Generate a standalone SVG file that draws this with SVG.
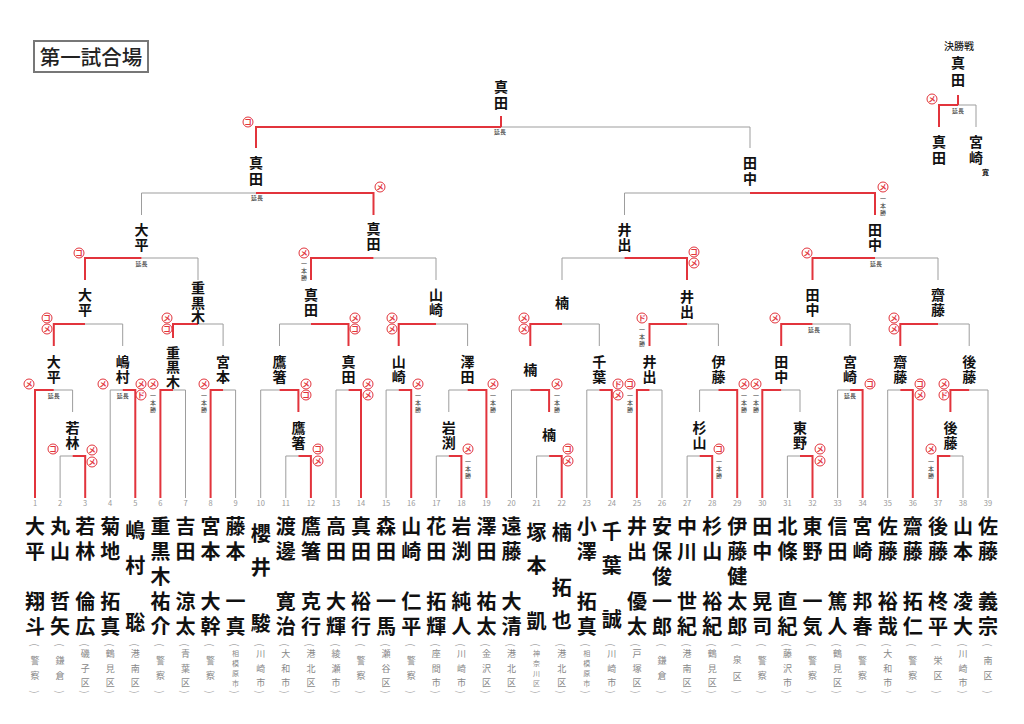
<svg xmlns="http://www.w3.org/2000/svg" width="1024" height="724" viewBox="0 0 1024 724">
<style>
text{font-family:"Noto Sans CJK JP","Noto Sans",sans-serif;text-anchor:middle}
.g{fill:none;stroke:#9d9d9d;stroke-width:1}
.r{fill:none;stroke:#e2343c;stroke-width:2}
.v,.v text{writing-mode:vertical-rl;text-orientation:upright;text-anchor:start}
.nm{font-size:14px;font-weight:700;fill:#111;letter-spacing:1px}
.pn{font-size:20px;font-weight:700;fill:#111;letter-spacing:5px}
.af{font-size:9px;fill:#888;letter-spacing:6px}
.af3{font-size:9px;fill:#888;letter-spacing:5.5px}
.af4{font-size:7px;fill:#888;letter-spacing:3px}
.pr{font-size:10px;fill:#aaa;dominant-baseline:central}
.no{font-size:7.5px;fill:#999}
.sm{font-size:6px;fill:#333}
.ip{font-size:6px;fill:#333;letter-spacing:1px}
.mk circle{fill:#fff;stroke:#e2343c;stroke-width:1}
.mk text{font-size:7.5px;fill:#e2343c;font-weight:700}
</style>
<rect x="34" y="41" width="114" height="31" fill="none" stroke="#777" stroke-width="2"/>
<text x="91" y="64.5" style="font-size:20.5px;font-weight:500;fill:#222">第一試合場</text>
<text x="959" y="49.5" style="font-size:10px;font-weight:500;fill:#222">決勝戦</text>

<g id="connectors">
<path class="g" d="M60.1,498V456H72.6M285.8,498V456H298.4M436.3,498V456H448.8M536.6,498V456H549.1M687.1,498V456H699.6M787.4,498V456H800M950.4,456H963V498"/>
<path class="g" d="M53.8,390H72.6V412M110.2,498V390H122.7M173,390H185.5V498M223.1,390H235.6V498M260.7,498V390H279.5M336,498V390H348.5M386.1,498V390H398.7M448.8,412V390H467.6M511.5,498V390H530.3M586.8,498V390H599.3M649.5,390H662V498M699.6,412V390H718.4M781.2,390H800V412M837.6,498V390H850.1M887.7,498V390H900.3M969.2,390H988V498"/>
<path class="g" d="M85,324H122.7V346M198,324H223.1V346M279.5,346V324H311M436,324H467.6V346M562,324H599.3V346M687,324H718.4V346M812.5,324H850.1V346M938,324H969.2V346"/>
<path class="g" d="M141.5,258H198V280M373.5,258H436V280M562,280V258H624.5M875,258H938V280"/>
<path class="g" d="M141.5,215V193H256M624.5,215V193H750M501,127H750V148M958,105H976V127"/>
<path class="r" d="M72.6,456H85.2V498M298.4,456H310.9V498M448.8,456H461.4V498M549.1,456H561.7V498M699.6,456H712.2V498M800,456H812.5V498M937.9,498V456H950.4"/>
<path class="r" d="M35,498V390H53.8M122.7,390H135.3V498M160.4,498V390H173M210.6,498V390H223.1M279.5,390H298.4V412M348.5,390H361V498M398.7,390H411.2V498M467.6,390H486.4V498M530.3,390H549.1V412M599.3,390H611.8V498M636.9,498V390H649.5M718.4,390H737.2V498M762.3,498V390H781.2M850.1,390H862.6V498M900.3,390H912.8V498M950.4,412V390H969.2"/>
<path class="r" d="M53.8,346V324H85M173,338V324H198M311,324H348.5V346M398.7,346V324H436M530.3,346V324H562M649.5,346V324H687M781.2,346V324H812.5M900.3,346V324H938"/>
<path class="r" d="M85,280V258H141.5M311,280V258H373.5M624.5,258H687V280M812.5,280V258H875"/>
<path class="r" d="M256,193H373.5V215M750,193H875V215M256,148V127H501M501,116V127M939,127V105H958M958,95V105"/>
</g>

<g id="scores">
<g class="mk">
<circle cx="53" cy="449" r="5"/><text x="53" y="451.6">コ</text>
<circle cx="92" cy="450" r="5"/><text x="92" y="452.6">メ</text>
<circle cx="92" cy="462" r="5"/><text x="92" y="464.6">メ</text>
<circle cx="318" cy="449" r="5"/><text x="318" y="451.6">コ</text>
<circle cx="318" cy="461" r="5"/><text x="318" y="463.6">メ</text>
<circle cx="468" cy="449" r="5"/><text x="468" y="451.6">メ</text>
<circle cx="568" cy="449" r="5"/><text x="568" y="451.6">コ</text>
<circle cx="568" cy="461" r="5"/><text x="568" y="463.6">メ</text>
<circle cx="719" cy="449" r="5"/><text x="719" y="451.6">コ</text>
<circle cx="820" cy="449" r="5"/><text x="820" y="451.6">メ</text>
<circle cx="820" cy="461" r="5"/><text x="820" y="463.6">メ</text>
<circle cx="931" cy="449" r="5"/><text x="931" y="451.6">メ</text>
<circle cx="29" cy="384" r="5"/><text x="29" y="386.6">メ</text>
<circle cx="103" cy="384" r="5"/><text x="103" y="386.6">メ</text>
<circle cx="141" cy="384" r="5"/><text x="141" y="386.6">メ</text>
<circle cx="141" cy="395" r="5"/><text x="141" y="397.6">ド</text>
<circle cx="153" cy="384" r="5"/><text x="153" y="386.6">メ</text>
<circle cx="204" cy="384" r="5"/><text x="204" y="386.6">メ</text>
<circle cx="306" cy="384" r="5"/><text x="306" y="386.6">メ</text>
<circle cx="306" cy="395" r="5"/><text x="306" y="397.6">コ</text>
<circle cx="368" cy="384" r="5"/><text x="368" y="386.6">メ</text>
<circle cx="368" cy="395" r="5"/><text x="368" y="397.6">メ</text>
<circle cx="418" cy="384" r="5"/><text x="418" y="386.6">メ</text>
<circle cx="493" cy="384" r="5"/><text x="493" y="386.6">メ</text>
<circle cx="557" cy="384" r="5"/><text x="557" y="386.6">メ</text>
<circle cx="618" cy="384" r="5"/><text x="618" y="386.6">ド</text>
<circle cx="618" cy="395" r="5"/><text x="618" y="397.6">メ</text>
<circle cx="630" cy="384" r="5"/><text x="630" y="386.6">コ</text>
<circle cx="744" cy="384" r="5"/><text x="744" y="386.6">メ</text>
<circle cx="756" cy="384" r="5"/><text x="756" y="386.6">メ</text>
<circle cx="870" cy="384" r="5"/><text x="870" y="386.6">コ</text>
<circle cx="920" cy="384" r="5"/><text x="920" y="386.6">コ</text>
<circle cx="920" cy="395" r="5"/><text x="920" y="397.6">メ</text>
<circle cx="944" cy="384" r="5"/><text x="944" y="386.6">メ</text>
<circle cx="944" cy="395" r="5"/><text x="944" y="397.6">ド</text>
<circle cx="47" cy="318" r="5"/><text x="47" y="320.6">コ</text>
<circle cx="47" cy="329" r="5"/><text x="47" y="331.6">メ</text>
<circle cx="167" cy="318" r="5"/><text x="167" y="320.6">メ</text>
<circle cx="167" cy="329" r="5"/><text x="167" y="331.6">コ</text>
<circle cx="355" cy="318" r="5"/><text x="355" y="320.6">メ</text>
<circle cx="355" cy="329" r="5"/><text x="355" y="331.6">コ</text>
<circle cx="392" cy="318" r="5"/><text x="392" y="320.6">メ</text>
<circle cx="392" cy="329" r="5"/><text x="392" y="331.6">メ</text>
<circle cx="524" cy="318" r="5"/><text x="524" y="320.6">メ</text>
<circle cx="524" cy="329" r="5"/><text x="524" y="331.6">メ</text>
<circle cx="642" cy="318" r="5"/><text x="642" y="320.6">ド</text>
<circle cx="775" cy="318" r="5"/><text x="775" y="320.6">メ</text>
<circle cx="894" cy="318" r="5"/><text x="894" y="320.6">メ</text>
<circle cx="894" cy="329" r="5"/><text x="894" y="331.6">メ</text>
<circle cx="79" cy="253" r="5"/><text x="79" y="255.6">コ</text>
<circle cx="304" cy="253" r="5"/><text x="304" y="255.6">メ</text>
<circle cx="694" cy="252" r="5"/><text x="694" y="254.6">コ</text>
<circle cx="694" cy="263" r="5"/><text x="694" y="265.6">メ</text>
<circle cx="807" cy="253" r="5"/><text x="807" y="255.6">メ</text>
<circle cx="380" cy="187" r="5"/><text x="380" y="189.6">メ</text>
<circle cx="883" cy="187" r="5"/><text x="883" y="189.6">メ</text>
<circle cx="248" cy="122" r="5"/><text x="248" y="124.6">コ</text>
<circle cx="932" cy="99" r="5"/><text x="932" y="101.6">メ</text>
</g>
<g class="sm">
<text x="53.8" y="398.1">延長</text><text x="122.7" y="398.1">延長</text><text x="850.1" y="398.1">延長</text>
<text x="814" y="332.1">延長</text><text x="141.5" y="266.1">延長</text><text x="876" y="266.1">延長</text>
<text x="257" y="200.1">延長</text><text x="500" y="134.1">延長</text><text x="958" y="113.1">延長</text>
</g>
<g class="v ip">
<text x="468" y="459">一本勝</text><text x="719" y="459">一本勝</text><text x="931" y="459">一本勝</text>
<text x="153" y="393">一本勝</text><text x="204" y="393">一本勝</text><text x="418" y="393">一本勝</text>
<text x="493" y="393">一本勝</text><text x="557" y="393">一本勝</text><text x="630" y="393">一本勝</text>
<text x="744" y="393">一本勝</text><text x="756" y="393">一本勝</text><text x="642" y="327">一本勝</text>
<text x="304" y="261">一本勝</text><text x="883" y="196">一本勝</text>
</g>
</g>

<g id="winners" class="v nm">
<g id="w-final"><text x="958" y="56" style="letter-spacing:2.5px">真田</text></g>
<g id="f-l"><text x="939" y="135" style="letter-spacing:1.5px">真田</text></g>
<g id="f-r"><text x="976" y="135" style="letter-spacing:1.5px">宮崎</text><text x="986" y="174.5" style="font-size:7px;writing-mode:horizontal-tb;text-anchor:middle">寛</text></g>
<g id="w-top"><text x="501" y="80" style="letter-spacing:1.5px">真田</text></g>
<g id="w-z1"><text x="256" y="156" style="letter-spacing:2px">真田</text></g>
<g id="w-z2"><text x="750" y="156" style="letter-spacing:2px">田中</text></g>
<g id="w-y1"><text x="141.5" y="223">大平</text></g>
<g id="w-y2"><text x="373.5" y="222">真田</text></g>
<g id="w-y3"><text x="624.5" y="223">井出</text></g>
<g id="w-y4"><text x="875" y="223">田中</text></g>
<g id="w-x1"><text x="85" y="288">大平</text></g>
<g id="w-x2"><text x="198" y="281" style="letter-spacing:0.5px">重黒木</text></g>
<g id="w-x3"><text x="311" y="288">真田</text></g>
<g id="w-x4"><text x="436" y="288">山崎</text></g>
<g id="w-x5"><text x="562" y="296">楠</text></g>
<g id="w-x6"><text x="687" y="289.5">井出</text></g>
<g id="w-x7"><text x="812.5" y="288">田中</text></g>
<g id="w-x8"><text x="938" y="288">齋藤</text></g>
<g id="w-h"><text x="53.8" y="355">大平</text></g>
<g id="w-i"><text x="122.7" y="355">嶋村</text></g>
<g id="w-j"><text x="173" y="345.5" style="letter-spacing:0.5px">重黒木</text></g>
<g id="w-k"><text x="223.1" y="355">宮本</text></g>
<g id="w-l"><text x="279.5" y="355">鷹箸</text></g>
<g id="w-m"><text x="348.5" y="355">真田</text></g>
<g id="w-n"><text x="398.7" y="355">山崎</text></g>
<g id="w-o"><text x="467.6" y="355">澤田</text></g>
<g id="w-p"><text x="530.3" y="363">楠</text></g>
<g id="w-q"><text x="599.3" y="355">千葉</text></g>
<g id="w-r"><text x="649.5" y="355">井出</text></g>
<g id="w-s"><text x="718.4" y="355">伊藤</text></g>
<g id="w-t"><text x="781.2" y="355">田中</text></g>
<g id="w-u"><text x="850.1" y="355">宮崎</text></g>
<g id="w-v"><text x="900.3" y="355">齋藤</text></g>
<g id="w-w"><text x="969.2" y="355">後藤</text></g>
<g id="w-a"><text x="72.6" y="421">若林</text></g>
<g id="w-b"><text x="298.4" y="421">鷹箸</text></g>
<g id="w-c"><text x="448.8" y="421">岩渕</text></g>
<g id="w-d"><text x="549.1" y="428">楠</text></g>
<g id="w-e"><text x="699.6" y="421">杉山</text></g>
<g id="w-f"><text x="800" y="421">東野</text></g>
<g id="w-g"><text x="950.4" y="421">後藤</text></g>
</g>

<g id="players">
<g id="p1"><text class="no" x="35" y="505.5">1</text><text class="v pn" x="35" y="516">大平</text><text class="v pn" x="35" y="591">翔斗</text><text class="v af" x="35" y="656.5">警察</text><text class="pr" x="35" y="645" transform="rotate(90 35 645)">(</text><text class="pr" x="35" y="692" transform="rotate(90 35 692)">)</text></g>
<g id="p2"><text class="no" x="60.1" y="505.5">2</text><text class="v pn" x="60.1" y="516">丸山</text><text class="v pn" x="60.1" y="591">哲矢</text><text class="v af" x="60.1" y="656.5">鎌倉</text><text class="pr" x="60.1" y="645" transform="rotate(90 60.1 645)">(</text><text class="pr" x="60.1" y="692" transform="rotate(90 60.1 692)">)</text></g>
<g id="p3"><text class="no" x="85.2" y="505.5">3</text><text class="v pn" x="85.2" y="516">若林</text><text class="v pn" x="85.2" y="591">倫広</text><text class="v af3" x="85.2" y="649.5">磯子区</text><text class="pr" x="85.2" y="645" transform="rotate(90 85.2 645)">(</text><text class="pr" x="85.2" y="692" transform="rotate(90 85.2 692)">)</text></g>
<g id="p4"><text class="no" x="110.2" y="505.5">4</text><text class="v pn" x="110.2" y="516">菊地</text><text class="v pn" x="110.2" y="591">拓真</text><text class="v af3" x="110.2" y="649.5">鶴見区</text><text class="pr" x="110.2" y="645" transform="rotate(90 110.2 645)">(</text><text class="pr" x="110.2" y="692" transform="rotate(90 110.2 692)">)</text></g>
<g id="p5"><text class="no" x="135.3" y="505.5">5</text><text class="v pn" x="135.3" y="520" style="letter-spacing:15px">嶋村</text><text class="v pn" x="135.3" y="612">聡</text><text class="v af3" x="135.3" y="649.5">港南区</text><text class="pr" x="135.3" y="645" transform="rotate(90 135.3 645)">(</text><text class="pr" x="135.3" y="692" transform="rotate(90 135.3 692)">)</text></g>
<g id="p6"><text class="no" x="160.4" y="505.5">6</text><text class="v pn" x="160.4" y="516">重黒木</text><text class="v pn" x="160.4" y="591">祐介</text><text class="v af" x="160.4" y="656.5">警察</text><text class="pr" x="160.4" y="645" transform="rotate(90 160.4 645)">(</text><text class="pr" x="160.4" y="692" transform="rotate(90 160.4 692)">)</text></g>
<g id="p7"><text class="no" x="185.5" y="505.5">7</text><text class="v pn" x="185.5" y="516">吉田</text><text class="v pn" x="185.5" y="591">涼太</text><text class="v af3" x="185.5" y="649.5">青葉区</text><text class="pr" x="185.5" y="645" transform="rotate(90 185.5 645)">(</text><text class="pr" x="185.5" y="692" transform="rotate(90 185.5 692)">)</text></g>
<g id="p8"><text class="no" x="210.6" y="505.5">8</text><text class="v pn" x="210.6" y="516">宮本</text><text class="v pn" x="210.6" y="591">大幹</text><text class="v af" x="210.6" y="656.5">警察</text><text class="pr" x="210.6" y="645" transform="rotate(90 210.6 645)">(</text><text class="pr" x="210.6" y="692" transform="rotate(90 210.6 692)">)</text></g>
<g id="p9"><text class="no" x="235.6" y="505.5">9</text><text class="v pn" x="235.6" y="516">藤本</text><text class="v pn" x="235.6" y="591">一真</text><text class="v af4" x="235.6" y="649.5">相模原市</text><text class="pr" x="235.6" y="645" transform="rotate(90 235.6 645)">(</text><text class="pr" x="235.6" y="692" transform="rotate(90 235.6 692)">)</text></g>
<g id="p10"><text class="no" x="260.7" y="505.5">10</text><text class="v pn" x="260.7" y="523" style="letter-spacing:14px">櫻井</text><text class="v pn" x="260.7" y="613">駿</text><text class="v af3" x="260.7" y="649.5">川崎市</text><text class="pr" x="260.7" y="645" transform="rotate(90 260.7 645)">(</text><text class="pr" x="260.7" y="692" transform="rotate(90 260.7 692)">)</text></g>
<g id="p11"><text class="no" x="285.8" y="505.5">11</text><text class="v pn" x="285.8" y="516">渡邊</text><text class="v pn" x="285.8" y="591">寛治</text><text class="v af3" x="285.8" y="649.5">大和市</text><text class="pr" x="285.8" y="645" transform="rotate(90 285.8 645)">(</text><text class="pr" x="285.8" y="692" transform="rotate(90 285.8 692)">)</text></g>
<g id="p12"><text class="no" x="310.9" y="505.5">12</text><text class="v pn" x="310.9" y="516">鷹箸</text><text class="v pn" x="310.9" y="591">克行</text><text class="v af3" x="310.9" y="649.5">港北区</text><text class="pr" x="310.9" y="645" transform="rotate(90 310.9 645)">(</text><text class="pr" x="310.9" y="692" transform="rotate(90 310.9 692)">)</text></g>
<g id="p13"><text class="no" x="336" y="505.5">13</text><text class="v pn" x="336" y="516">高田</text><text class="v pn" x="336" y="591">大輝</text><text class="v af3" x="336" y="649.5">綾瀬市</text><text class="pr" x="336" y="645" transform="rotate(90 336 645)">(</text><text class="pr" x="336" y="692" transform="rotate(90 336 692)">)</text></g>
<g id="p14"><text class="no" x="361" y="505.5">14</text><text class="v pn" x="361" y="516">真田</text><text class="v pn" x="361" y="591">裕行</text><text class="v af" x="361" y="656.5">警察</text><text class="pr" x="361" y="645" transform="rotate(90 361 645)">(</text><text class="pr" x="361" y="692" transform="rotate(90 361 692)">)</text></g>
<g id="p15"><text class="no" x="386.1" y="505.5">15</text><text class="v pn" x="386.1" y="516">森田</text><text class="v pn" x="386.1" y="591">一馬</text><text class="v af3" x="386.1" y="649.5">瀬谷区</text><text class="pr" x="386.1" y="645" transform="rotate(90 386.1 645)">(</text><text class="pr" x="386.1" y="692" transform="rotate(90 386.1 692)">)</text></g>
<g id="p16"><text class="no" x="411.2" y="505.5">16</text><text class="v pn" x="411.2" y="516">山崎</text><text class="v pn" x="411.2" y="591">仁平</text><text class="v af" x="411.2" y="656.5">警察</text><text class="pr" x="411.2" y="645" transform="rotate(90 411.2 645)">(</text><text class="pr" x="411.2" y="692" transform="rotate(90 411.2 692)">)</text></g>
<g id="p17"><text class="no" x="436.3" y="505.5">17</text><text class="v pn" x="436.3" y="516">花田</text><text class="v pn" x="436.3" y="591">拓輝</text><text class="v af3" x="436.3" y="649.5">座間市</text><text class="pr" x="436.3" y="645" transform="rotate(90 436.3 645)">(</text><text class="pr" x="436.3" y="692" transform="rotate(90 436.3 692)">)</text></g>
<g id="p18"><text class="no" x="461.4" y="505.5">18</text><text class="v pn" x="461.4" y="516">岩渕</text><text class="v pn" x="461.4" y="591">純人</text><text class="v af3" x="461.4" y="649.5">川崎市</text><text class="pr" x="461.4" y="645" transform="rotate(90 461.4 645)">(</text><text class="pr" x="461.4" y="692" transform="rotate(90 461.4 692)">)</text></g>
<g id="p19"><text class="no" x="486.4" y="505.5">19</text><text class="v pn" x="486.4" y="516">澤田</text><text class="v pn" x="486.4" y="591">祐太</text><text class="v af3" x="486.4" y="649.5">金沢区</text><text class="pr" x="486.4" y="645" transform="rotate(90 486.4 645)">(</text><text class="pr" x="486.4" y="692" transform="rotate(90 486.4 692)">)</text></g>
<g id="p20"><text class="no" x="511.5" y="505.5">20</text><text class="v pn" x="511.5" y="516">遠藤</text><text class="v pn" x="511.5" y="591">大清</text><text class="v af3" x="511.5" y="649.5">港北区</text><text class="pr" x="511.5" y="645" transform="rotate(90 511.5 645)">(</text><text class="pr" x="511.5" y="692" transform="rotate(90 511.5 692)">)</text></g>
<g id="p21"><text class="no" x="536.6" y="505.5">21</text><text class="v pn" x="536.6" y="522" style="letter-spacing:13px">塚本</text><text class="v pn" x="536.6" y="611">凱</text><text class="v af4" x="536.6" y="649.5">神奈川区</text><text class="pr" x="536.6" y="645" transform="rotate(90 536.6 645)">(</text><text class="pr" x="536.6" y="692" transform="rotate(90 536.6 692)">)</text></g>
<g id="p22"><text class="no" x="561.7" y="505.5">22</text><text class="v pn" x="561.7" y="522.5">楠</text><text class="v pn" x="561.7" y="577" style="letter-spacing:13px">拓也</text><text class="v af3" x="561.7" y="649.5">港北区</text><text class="pr" x="561.7" y="645" transform="rotate(90 561.7 645)">(</text><text class="pr" x="561.7" y="692" transform="rotate(90 561.7 692)">)</text></g>
<g id="p23"><text class="no" x="586.8" y="505.5">23</text><text class="v pn" x="586.8" y="516">小澤</text><text class="v pn" x="586.8" y="591">拓真</text><text class="v af4" x="586.8" y="649.5">相模原市</text><text class="pr" x="586.8" y="645" transform="rotate(90 586.8 645)">(</text><text class="pr" x="586.8" y="692" transform="rotate(90 586.8 692)">)</text></g>
<g id="p24"><text class="no" x="611.8" y="505.5">24</text><text class="v pn" x="611.8" y="521" style="letter-spacing:14px">千葉</text><text class="v pn" x="611.8" y="609">誠</text><text class="v af3" x="611.8" y="649.5">川崎市</text><text class="pr" x="611.8" y="645" transform="rotate(90 611.8 645)">(</text><text class="pr" x="611.8" y="692" transform="rotate(90 611.8 692)">)</text></g>
<g id="p25"><text class="no" x="636.9" y="505.5">25</text><text class="v pn" x="636.9" y="516">井出</text><text class="v pn" x="636.9" y="591">優太</text><text class="v af3" x="636.9" y="649.5">戸塚区</text><text class="pr" x="636.9" y="645" transform="rotate(90 636.9 645)">(</text><text class="pr" x="636.9" y="692" transform="rotate(90 636.9 692)">)</text></g>
<g id="p26"><text class="no" x="662" y="505.5">26</text><text class="v pn" x="662" y="516">安保</text><text class="v pn" x="662" y="566">俊一郎</text><text class="v af" x="662" y="656.5">鎌倉</text><text class="pr" x="662" y="645" transform="rotate(90 662 645)">(</text><text class="pr" x="662" y="692" transform="rotate(90 662 692)">)</text></g>
<g id="p27"><text class="no" x="687.1" y="505.5">27</text><text class="v pn" x="687.1" y="516">中川</text><text class="v pn" x="687.1" y="591">世紀</text><text class="v af3" x="687.1" y="649.5">港南区</text><text class="pr" x="687.1" y="645" transform="rotate(90 687.1 645)">(</text><text class="pr" x="687.1" y="692" transform="rotate(90 687.1 692)">)</text></g>
<g id="p28"><text class="no" x="712.2" y="505.5">28</text><text class="v pn" x="712.2" y="516">杉山</text><text class="v pn" x="712.2" y="591">裕紀</text><text class="v af3" x="712.2" y="649.5">鶴見区</text><text class="pr" x="712.2" y="645" transform="rotate(90 712.2 645)">(</text><text class="pr" x="712.2" y="692" transform="rotate(90 712.2 692)">)</text></g>
<g id="p29"><text class="no" x="737.2" y="505.5">29</text><text class="v pn" x="737.2" y="516">伊藤</text><text class="v pn" x="737.2" y="566">健太郎</text><text class="v af" x="737.2" y="655.5" style="letter-spacing:8px">泉区</text><text class="pr" x="737.2" y="645" transform="rotate(90 737.2 645)">(</text><text class="pr" x="737.2" y="692" transform="rotate(90 737.2 692)">)</text></g>
<g id="p30"><text class="no" x="762.3" y="505.5">30</text><text class="v pn" x="762.3" y="516">田中</text><text class="v pn" x="762.3" y="591">晃司</text><text class="v af" x="762.3" y="656.5">警察</text><text class="pr" x="762.3" y="645" transform="rotate(90 762.3 645)">(</text><text class="pr" x="762.3" y="692" transform="rotate(90 762.3 692)">)</text></g>
<g id="p31"><text class="no" x="787.4" y="505.5">31</text><text class="v pn" x="787.4" y="516">北條</text><text class="v pn" x="787.4" y="591">直紀</text><text class="v af3" x="787.4" y="649.5">藤沢市</text><text class="pr" x="787.4" y="645" transform="rotate(90 787.4 645)">(</text><text class="pr" x="787.4" y="692" transform="rotate(90 787.4 692)">)</text></g>
<g id="p32"><text class="no" x="812.5" y="505.5">32</text><text class="v pn" x="812.5" y="516">東野</text><text class="v pn" x="812.5" y="591">一気</text><text class="v af" x="812.5" y="656.5">警察</text><text class="pr" x="812.5" y="645" transform="rotate(90 812.5 645)">(</text><text class="pr" x="812.5" y="692" transform="rotate(90 812.5 692)">)</text></g>
<g id="p33"><text class="no" x="837.6" y="505.5">33</text><text class="v pn" x="837.6" y="516">信田</text><text class="v pn" x="837.6" y="591">篤人</text><text class="v af3" x="837.6" y="649.5">鶴見区</text><text class="pr" x="837.6" y="645" transform="rotate(90 837.6 645)">(</text><text class="pr" x="837.6" y="692" transform="rotate(90 837.6 692)">)</text></g>
<g id="p34"><text class="no" x="862.6" y="505.5">34</text><text class="v pn" x="862.6" y="516">宮崎</text><text class="v pn" x="862.6" y="591">邦春</text><text class="v af" x="862.6" y="656.5">警察</text><text class="pr" x="862.6" y="645" transform="rotate(90 862.6 645)">(</text><text class="pr" x="862.6" y="692" transform="rotate(90 862.6 692)">)</text></g>
<g id="p35"><text class="no" x="887.7" y="505.5">35</text><text class="v pn" x="887.7" y="516">佐藤</text><text class="v pn" x="887.7" y="591">裕哉</text><text class="v af3" x="887.7" y="649.5">大和市</text><text class="pr" x="887.7" y="645" transform="rotate(90 887.7 645)">(</text><text class="pr" x="887.7" y="692" transform="rotate(90 887.7 692)">)</text></g>
<g id="p36"><text class="no" x="912.8" y="505.5">36</text><text class="v pn" x="912.8" y="516">齋藤</text><text class="v pn" x="912.8" y="591">拓仁</text><text class="v af" x="912.8" y="656.5">警察</text><text class="pr" x="912.8" y="645" transform="rotate(90 912.8 645)">(</text><text class="pr" x="912.8" y="692" transform="rotate(90 912.8 692)">)</text></g>
<g id="p37"><text class="no" x="937.9" y="505.5">37</text><text class="v pn" x="937.9" y="516">後藤</text><text class="v pn" x="937.9" y="591">柊平</text><text class="v af" x="937.9" y="656.5">栄区</text><text class="pr" x="937.9" y="645" transform="rotate(90 937.9 645)">(</text><text class="pr" x="937.9" y="692" transform="rotate(90 937.9 692)">)</text></g>
<g id="p38"><text class="no" x="963" y="505.5">38</text><text class="v pn" x="963" y="516">山本</text><text class="v pn" x="963" y="591">凌大</text><text class="v af3" x="963" y="649.5">川崎市</text><text class="pr" x="963" y="645" transform="rotate(90 963 645)">(</text><text class="pr" x="963" y="692" transform="rotate(90 963 692)">)</text></g>
<g id="p39"><text class="no" x="988" y="505.5">39</text><text class="v pn" x="988" y="516">佐藤</text><text class="v pn" x="988" y="591">義宗</text><text class="v af" x="988" y="656.5">南区</text><text class="pr" x="988" y="645" transform="rotate(90 988 645)">(</text><text class="pr" x="988" y="692" transform="rotate(90 988 692)">)</text></g>
</g>
</svg>
